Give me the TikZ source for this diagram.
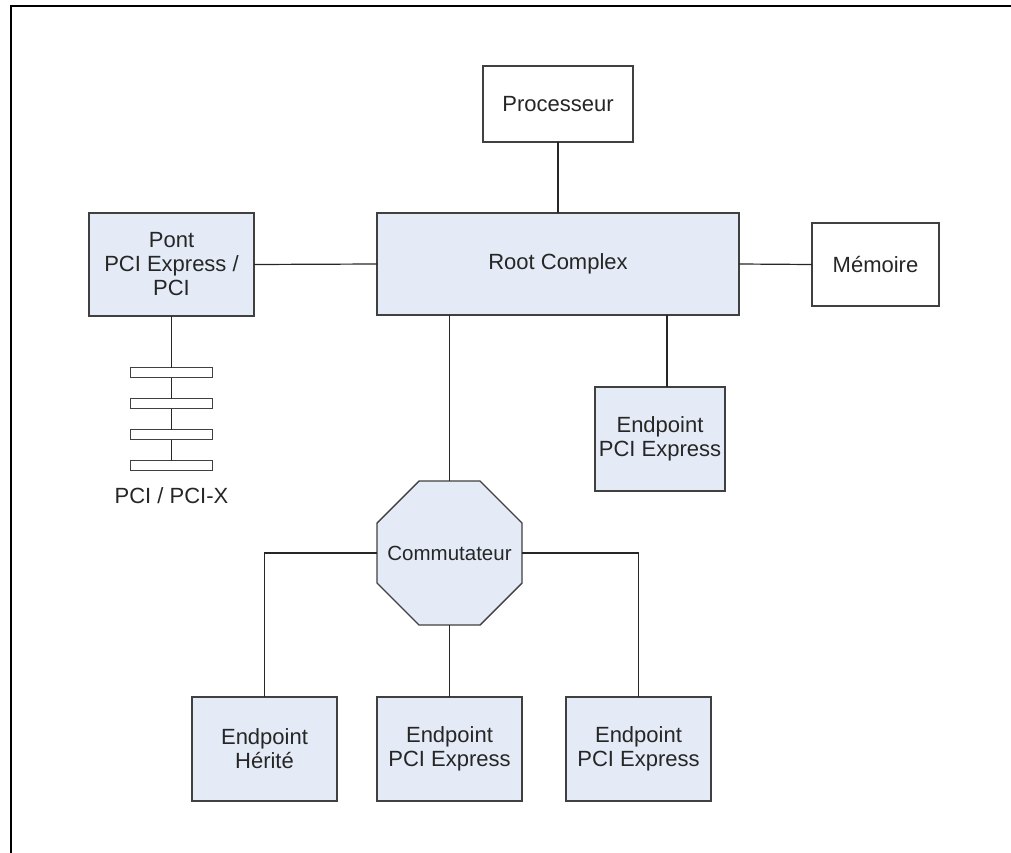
\documentclass[tikz,border=0pt]{standalone}
\usepackage{fontspec}
\setmainfont{Liberation Sans}
\definecolor{boxfill}{HTML}{E4EBF6}
\definecolor{boxline}{HTML}{404040}
\definecolor{txt}{HTML}{262626}
\begin{document}
\begin{tikzpicture}[x=1pt,y=-1pt,
  lbl/.style={text=txt,align=center,font=\fontsize{22}{24}\selectfont},
  base/.style={lbl,draw=boxline,line width=1.4pt,inner sep=0pt,outer sep=0pt},
  bluebox/.style={base,fill=boxfill},
  whitebox/.style={base,fill=white},
  slot/.style={draw=boxline,line width=1.4pt,fill=white,minimum width=82pt,minimum height=10pt,inner sep=0pt,outer sep=0pt},
  link/.style={draw=black!85,line width=1.2pt}]
\useasboundingbox (0,0) rectangle (1011,853);
\draw[line width=2.4pt] (11,853) -- (11,6) -- (1011,6);

\node[whitebox,minimum width=150pt,minimum height=76pt] (proc) at (558,104) {Processeur};
\node[bluebox,minimum width=362pt,minimum height=102pt] (root) at (558,264) {Root Complex};
\node[bluebox,minimum width=165pt,minimum height=103pt] (pont) at (171.5,264.5) {Pont\\PCI Express /\\PCI};
\node[whitebox,minimum width=127pt,minimum height=83pt] (mem) at (875.5,264.5) {Mémoire};
\node[bluebox,minimum width=130pt,minimum height=104pt] (ep1) at (660,439) {Endpoint\\PCI Express};

% octagon (switch)
\filldraw[fill=boxfill,draw=boxline,line width=1.4pt,line join=miter]
  (419,481) -- (480,481) -- (522,523) -- (522,583) -- (480,625) -- (419,625) -- (377,583) -- (377,523) -- cycle;
\node[lbl,font=\fontsize{20.5}{24}\selectfont,minimum width=145pt,minimum height=144pt,inner sep=0pt,outer sep=0pt] (sw) at (449.5,553) {Commutateur};

\node[bluebox,minimum width=145pt,minimum height=104pt] (eh) at (264.5,749) {Endpoint\\Hérité};
\node[bluebox,minimum width=145pt,minimum height=104pt] (ep2) at (449.5,749) {Endpoint\\PCI Express};
\node[bluebox,minimum width=145pt,minimum height=104pt] (ep3) at (638.5,749) {Endpoint\\PCI Express};

\node[slot] (s1) at (171.5,372.5) {};
\node[slot] (s2) at (171.5,403.5) {};
\node[slot] (s3) at (171.5,434.5) {};
\node[slot] (s4) at (171.5,465.5) {};
\node[lbl,inner sep=0pt] (pcilbl) at (171.5,496) {PCI / PCI-X};

\coordinate (c1) at (667,0);
\draw[link] (proc.south) -- (root.north);
\draw[link] (pont.east) -- (root.west);
\draw[link] (root.east) -- (mem.west);
\draw[link] (c1 |- root.south) -- (c1 |- ep1.north);
\draw[link] (sw.north |- root.south) -- (sw.north);
\draw[link] (sw.west) -| (eh.north);
\draw[link] (sw.south) -- (ep2.north);
\draw[link] (sw.east) -| (ep3.north);
\draw[link] (pont.south) -- (s1.north);
\draw[link] (s1.south) -- (s2.north);
\draw[link] (s2.south) -- (s3.north);
\draw[link] (s3.south) -- (s4.north);
\end{tikzpicture}
\end{document}
